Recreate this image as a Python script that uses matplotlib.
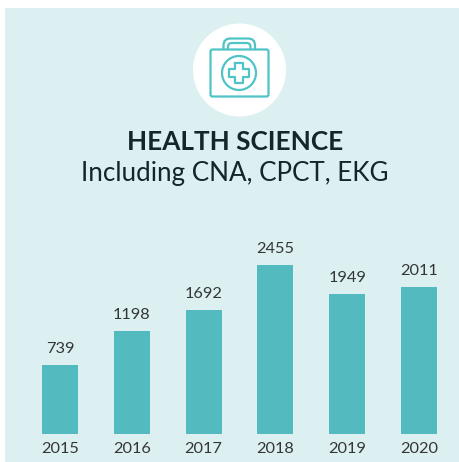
import matplotlib
matplotlib.use("Agg")
import matplotlib.pyplot as plt
from matplotlib.patches import Rectangle, Circle, FancyBboxPatch, PathPatch
from matplotlib.path import Path

# Data
years = ["2015", "2016", "2017", "2018", "2019", "2020"]
# The printed numbers are not proportional to the drawn bars, so both are kept:
printed_values = [739, 1198, 1692, 2455, 1949, 2011]
# bar lengths, on a scale where the tallest bar = 2455
bar_lengths = [1002, 1496, 1801, 2455, 2034, 2135]
title = "HEALTH SCIENCE"
subtitle = "Including CNA, CPCT, EKG"

BG = "#DDF0F1"
TEAL = "#53BBBF"
ICON = "#4FC3C6"
TEXT = "#333638"
DARK = "#12262B"
W, H = 459, 462

plt.rcParams["font.family"] = ["Lato", "DejaVu Sans"]
fig = plt.figure(figsize=(W / 100, H / 100), dpi=100, facecolor="white")

# Pixel-space layer for the panel, icon and headings
bg = fig.add_axes([0, 0, 1, 1], zorder=0)
bg.set_xlim(0, W)
bg.set_ylim(H, 0)
bg.axis("off")
bg.add_patch(Rectangle((5, 8), W - 5, H - 8, fc=BG, ec="none"))
bg.add_patch(Circle((239.5, 70), 46.5, fc="white", ec="none"))

lw = 1.6
bg.add_patch(FancyBboxPatch((210.5, 49.5), 58, 47, boxstyle="round,pad=0,rounding_size=2",
                            fc="none", ec=ICON, lw=lw))
for (x0, x1, y0, r) in [(223.5, 255, 38.5, 7), (228, 250.5, 43, 4)]:
    verts = [(x0, 49), (x0, y0 + r), (x0, y0), (x0 + r, y0), (x1 - r, y0), (x1, y0), (x1, y0 + r), (x1, 49)]
    codes = [Path.MOVETO, Path.LINETO, Path.CURVE3, Path.CURVE3, Path.LINETO, Path.CURVE3, Path.CURVE3, Path.LINETO]
    bg.add_patch(PathPatch(Path(verts, codes), fc="none", ec=ICON, lw=lw))
bg.add_patch(Circle((239, 73), 17, fc="none", ec=ICON, lw=lw))
cx, cy, a, b = 239, 73, 10, 3.7
cross = [(cx - b, cy - a), (cx + b, cy - a), (cx + b, cy - b), (cx + a, cy - b), (cx + a, cy + b),
         (cx + b, cy + b), (cx + b, cy + a), (cx - b, cy + a), (cx - b, cy + b), (cx - a, cy + b),
         (cx - a, cy - b), (cx - b, cy - b), (cx - b, cy - a)]
bg.plot(*zip(*cross), color=ICON, lw=lw, solid_joinstyle="round")

bg.text(235, 142.5, title, ha="center", va="center", fontsize=18.85, fontweight="bold", color=DARK)
bg.text(234.5, 174, subtitle, ha="center", va="center", fontsize=18.75, color=DARK)

# Bar chart layer
px_left, px_right, px_base, px_top = 5, 459, 434, 230
px_per_cat = (419 - 60) / 5
px_per_val = 169 / max(bar_lengths)
ax = fig.add_axes([px_left / W, 1 - px_base / H, (px_right - px_left) / W, (px_base - px_top) / H], zorder=1)
ax.patch.set_alpha(0)
pos = list(range(len(years)))
ax.bar(pos, bar_lengths, width=36 / px_per_cat, color=TEAL)
ax.set_xlim((px_left - 60) / px_per_cat, (px_right - 60) / px_per_cat)
ax.set_ylim(0, (px_base - px_top) / px_per_val)
ax.set_xticks(pos, years)
ax.set_yticks([])
ax.tick_params(axis="x", length=0, pad=6, labelsize=11.8, labelcolor=TEXT)
for s in ax.spines.values():
    s.set_visible(False)
for p, h, v in zip(pos, bar_lengths, printed_values):
    ax.annotate(str(v), (p, h), xytext=(0, 6.8), textcoords="offset points", ha="center", va="bottom",
                fontsize=11.8, color=TEXT)

fig.savefig("out.png", dpi=100, facecolor="white")
